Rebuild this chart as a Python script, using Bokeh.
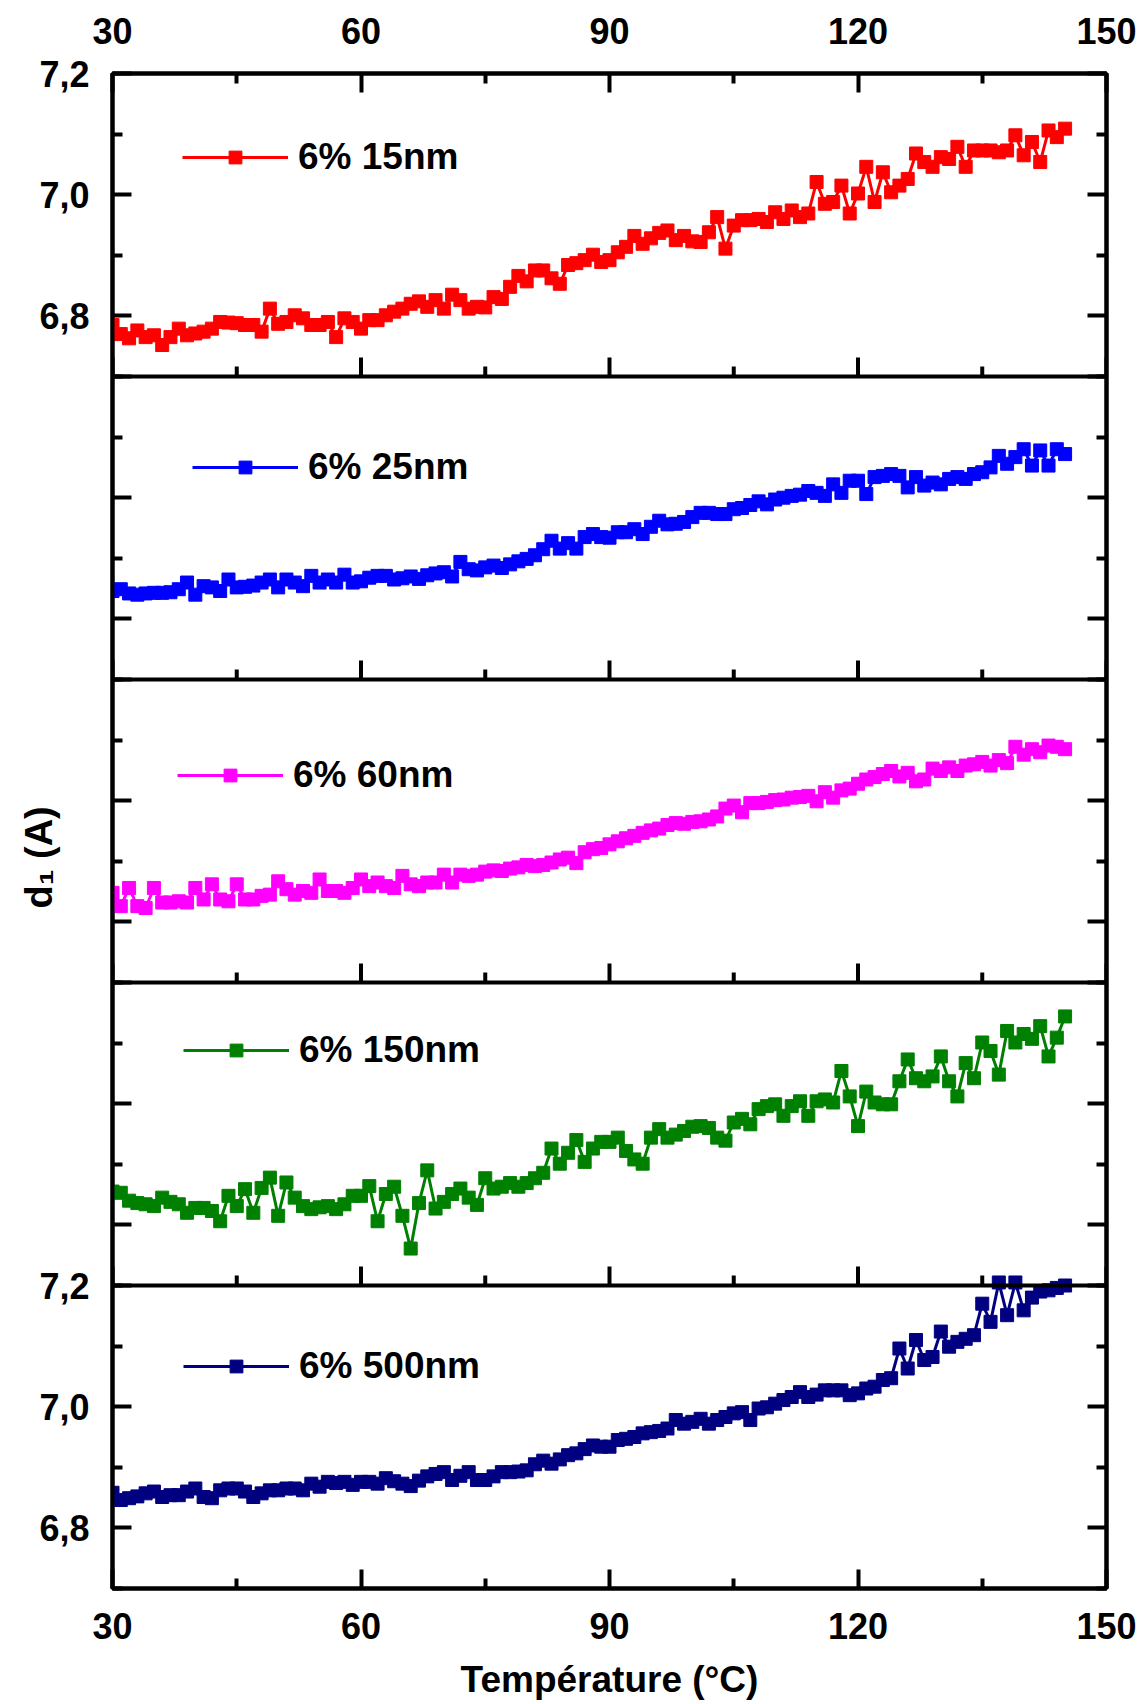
from math import pi
from bokeh.plotting import figure
from bokeh.models import (Range1d, LinearAxis, FixedTicker, CustomJSTickFormatter,
                          Span, Legend, LegendItem)
from bokeh.embed import file_html
from bokeh.resources import INLINE

# ---------------- data ----------------
temperature = [30, 31, 32, 33, 34, 35, 36, 37, 38, 39,
               40, 41, 42, 43, 44, 45, 46, 47, 48, 49,
               50, 51, 52, 53, 54, 55, 56, 57, 58, 59,
               60, 61, 62, 63, 64, 65, 66, 67, 68, 69,
               70, 71, 72, 73, 74, 75, 76, 77, 78, 79,
               80, 81, 82, 83, 84, 85, 86, 87, 88, 89,
               90, 91, 92, 93, 94, 95, 96, 97, 98, 99,
               100, 101, 102, 103, 104, 105, 106, 107, 108, 109,
               110, 111, 112, 113, 114, 115, 116, 117, 118, 119,
               120, 121, 122, 123, 124, 125, 126, 127, 128, 129,
               130, 131, 132, 133, 134, 135, 136, 137, 138, 139,
               140, 141, 142, 143, 144, 145]

d1_15nm = [6.785, 6.770, 6.763, 6.776, 6.765, 6.768, 6.752, 6.765, 6.779, 6.768,
           6.771, 6.774, 6.779, 6.790, 6.789, 6.788, 6.785, 6.785, 6.774, 6.812,
           6.787, 6.790, 6.801, 6.796, 6.785, 6.785, 6.790, 6.765, 6.796, 6.790,
           6.779, 6.793, 6.793, 6.801, 6.807, 6.812, 6.820, 6.824, 6.815, 6.826,
           6.812, 6.835, 6.826, 6.812, 6.815, 6.814, 6.831, 6.828, 6.848, 6.866,
           6.857, 6.875, 6.875, 6.862, 6.853, 6.884, 6.887, 6.892, 6.901, 6.889,
           6.892, 6.905, 6.914, 6.932, 6.919, 6.928, 6.937, 6.941, 6.925, 6.932,
           6.923, 6.922, 6.938, 6.963, 6.911, 6.949, 6.958, 6.958, 6.960, 6.955,
           6.971, 6.960, 6.974, 6.963, 6.969, 7.021, 6.985, 6.988, 7.015, 6.969,
           7.002, 7.046, 6.988, 7.037, 7.004, 7.015, 7.026, 7.068, 7.054, 7.046,
           7.062, 7.059, 7.079, 7.046, 7.073, 7.073, 7.073, 7.070, 7.073, 7.098,
           7.065, 7.087, 7.054, 7.106, 7.095, 7.109]

d1_25nm = [6.846, 6.849, 6.842, 6.840, 6.842, 6.843, 6.843, 6.844, 6.849, 6.860,
           6.840, 6.854, 6.852, 6.846, 6.865, 6.852, 6.853, 6.855, 6.860, 6.865,
           6.852, 6.865, 6.860, 6.854, 6.871, 6.860, 6.865, 6.860, 6.873, 6.860,
           6.862, 6.868, 6.871, 6.871, 6.865, 6.867, 6.870, 6.866, 6.872, 6.875,
           6.877, 6.870, 6.894, 6.882, 6.880, 6.885, 6.888, 6.884, 6.890, 6.895,
           6.899, 6.905, 6.915, 6.929, 6.916, 6.925, 6.916, 6.935, 6.940, 6.935,
           6.934, 6.943, 6.943, 6.948, 6.940, 6.952, 6.962, 6.956, 6.957, 6.960,
           6.968, 6.975, 6.975, 6.973, 6.973, 6.981, 6.983, 6.988, 6.994, 6.989,
           6.997, 7.000, 7.003, 7.005, 7.011, 7.008, 7.003, 7.022, 7.008, 7.028,
           7.028, 7.006, 7.034, 7.036, 7.039, 7.036, 7.017, 7.034, 7.020, 7.025,
           7.022, 7.031, 7.034, 7.031, 7.039, 7.042, 7.050, 7.069, 7.056, 7.067,
           7.080, 7.053, 7.078, 7.053, 7.080, 7.072]

d1_60nm = [6.848, 6.826, 6.856, 6.826, 6.823, 6.856, 6.832, 6.832, 6.834, 6.832,
           6.856, 6.837, 6.862, 6.837, 6.834, 6.862, 6.837, 6.837, 6.843, 6.845,
           6.867, 6.854, 6.845, 6.851, 6.848, 6.870, 6.851, 6.851, 6.848, 6.856,
           6.870, 6.859, 6.865, 6.859, 6.856, 6.876, 6.862, 6.859, 6.865, 6.865,
           6.878, 6.865, 6.878, 6.876, 6.878, 6.883, 6.885, 6.884, 6.888, 6.890,
           6.894, 6.892, 6.894, 6.898, 6.903, 6.906, 6.897, 6.915, 6.920, 6.922,
           6.928, 6.933, 6.938, 6.942, 6.947, 6.951, 6.954, 6.960, 6.963, 6.962,
           6.965, 6.966, 6.969, 6.974, 6.987, 6.992, 6.981, 6.996, 6.996, 6.998,
           7.001, 7.002, 7.005, 7.006, 7.008, 6.999, 7.014, 7.005, 7.017, 7.020,
           7.028, 7.035, 7.039, 7.044, 7.049, 7.040, 7.046, 7.032, 7.035, 7.053,
           7.049, 7.055, 7.049, 7.058, 7.060, 7.064, 7.058, 7.067, 7.062, 7.089,
           7.076, 7.085, 7.080, 7.091, 7.089, 7.085]

d1_150nm = [6.855, 6.853, 6.840, 6.836, 6.834, 6.831, 6.845, 6.838, 6.834, 6.820,
            6.828, 6.828, 6.823, 6.806, 6.848, 6.831, 6.859, 6.820, 6.861, 6.878,
            6.815, 6.870, 6.845, 6.831, 6.826, 6.829, 6.831, 6.826, 6.834, 6.848,
            6.848, 6.864, 6.806, 6.851, 6.863, 6.815, 6.761, 6.836, 6.890, 6.827,
            6.838, 6.851, 6.860, 6.845, 6.833, 6.877, 6.860, 6.863, 6.869, 6.863,
            6.869, 6.877, 6.886, 6.926, 6.901, 6.919, 6.940, 6.904, 6.926, 6.937,
            6.937, 6.944, 6.922, 6.908, 6.901, 6.944, 6.958, 6.944, 6.949, 6.955,
            6.962, 6.963, 6.960, 6.944, 6.939, 6.969, 6.975, 6.966, 6.991, 6.996,
            6.999, 6.980, 6.996, 7.004, 6.980, 7.004, 7.007, 7.002, 7.054, 7.012,
            6.963, 7.020, 7.002, 6.999, 6.999, 7.037, 7.073, 7.042, 7.037, 7.045,
            7.078, 7.037, 7.012, 7.067, 7.042, 7.101, 7.087, 7.048, 7.120, 7.101,
            7.115, 7.107, 7.128, 7.078, 7.109, 7.144]

d1_500nm = [6.858, 6.846, 6.849, 6.852, 6.857, 6.860, 6.851, 6.854, 6.854, 6.860,
            6.865, 6.851, 6.849, 6.862, 6.865, 6.865, 6.860, 6.851, 6.857, 6.862,
            6.862, 6.865, 6.865, 6.862, 6.873, 6.868, 6.876, 6.874, 6.876, 6.871,
            6.876, 6.876, 6.873, 6.882, 6.877, 6.873, 6.869, 6.878, 6.885, 6.889,
            6.892, 6.879, 6.886, 6.892, 6.879, 6.879, 6.885, 6.892, 6.892, 6.893,
            6.895, 6.905, 6.911, 6.906, 6.913, 6.920, 6.923, 6.930, 6.936, 6.934,
            6.934, 6.945, 6.947, 6.950, 6.956, 6.958, 6.960, 6.964, 6.978, 6.972,
            6.975, 6.980, 6.972, 6.978, 6.983, 6.989, 6.991, 6.978, 6.997, 6.999,
            7.005, 7.011, 7.016, 7.024, 7.016, 7.020, 7.027, 7.027, 7.027, 7.019,
            7.022, 7.030, 7.033, 7.044, 7.047, 7.096, 7.063, 7.110, 7.077, 7.082,
            7.124, 7.099, 7.107, 7.112, 7.118, 7.170, 7.140, 7.205, 7.151, 7.205,
            7.159, 7.180, 7.190, 7.192, 7.196, 7.200]

series_labels = ["6% 15nm", "6% 25nm", "6% 60nm", "6% 150nm", "6% 500nm"]
series_values = [d1_15nm, d1_25nm, d1_60nm, d1_150nm, d1_500nm]
series_colors = ["#FF0000", "#0000FF", "#FF00FF", "#008000", "#000080"]

x_major = [30, 60, 90, 120, 150]
x_minor = [45, 75, 105, 135]
y_major = [6.8, 7.0, 7.2]
y_minor = [6.7, 6.9, 7.1]
y_major_labels = ["6,8", "7,0", "7,2"]
y_low, y_high = 6.7, 7.2
x_title = "Température (°C)"
y_title = "d\u2081 (A)"

# ---------------- layout / style ----------------
FONT = "Liberation Sans"
N = len(series_values)
span = y_high - y_low
offsets = [span * (N - 1 - i) for i in range(N)]   # top panel has largest offset

p = figure(width=1143, height=1704,
           x_range=Range1d(30, 150),
           y_range=Range1d(y_low, y_low + span * N),
           output_backend="svg", toolbar_location=None,
           x_axis_location=None, y_axis_location=None,
           min_border_left=112, min_border_right=37,
           min_border_top=73, min_border_bottom=116)
p.grid.visible = False
p.outline_line_color = "black"
p.outline_line_width = 4
p.background_fill_color = "white"
p.border_fill_color = "white"

p.extra_y_ranges = {f"panel{i}": Range1d(y_low - offsets[i], y_low - offsets[i] + span * N)
                    for i in range(N)}

AX = dict(axis_line_width=4, axis_line_color="black",
          major_tick_line_width=4, minor_tick_line_width=4,
          major_tick_in=19, major_tick_out=0, minor_tick_in=10, minor_tick_out=0,
          major_label_text_font=FONT, major_label_text_font_size="36px",
          major_label_text_font_style="bold", major_label_text_color="black")
TITLE = dict(axis_label_text_font=FONT, axis_label_text_font_style="bold",
             axis_label_text_color="black")

# y ticks for every panel (shared left / right axes)
left_major = sorted({round(v + o, 4) for o in offsets for v in y_major})
left_minor = sorted({round(v + o, 4) for o in offsets for v in y_minor})
lab_vals = [round(v + offsets[0], 4) for v in y_major] + [round(v + offsets[-1], 4) for v in y_major]
lab_text = y_major_labels + y_major_labels
yfmt = CustomJSTickFormatter(args=dict(vals=lab_vals, labs=lab_text), code="""
for (let i = 0; i < vals.length; i++) { if (Math.abs(vals[i] - tick) < 1e-6) return labs[i]; }
return "";
""")
blank = CustomJSTickFormatter(code="return '';")

left = LinearAxis(ticker=FixedTicker(ticks=left_major, minor_ticks=left_minor),
                  formatter=yfmt, major_label_standoff=23, **AX)
right = LinearAxis(ticker=FixedTicker(ticks=left_major, minor_ticks=left_minor),
                   formatter=blank, major_label_standoff=0, **AX)
p.add_layout(left, "left")
p.add_layout(right, "right")

# y title carried by an outer, otherwise invisible axis (drawn over the tick-label column);
# trailing no-break spaces move the visible text a little below the frame's centre
ytitle = LinearAxis(ticker=FixedTicker(ticks=[y_low]), formatter=blank,
                    axis_line_alpha=0, major_tick_in=0, major_tick_out=0,
                    minor_tick_in=0, minor_tick_out=0,
                    major_label_standoff=0, major_label_text_font_size="0px",
                    axis_label=y_title + "\u00a0" * 5, axis_label_standoff=-23,
                    axis_label_text_font_size="38px", **TITLE)
p.add_layout(ytitle, "left")

below = LinearAxis(ticker=FixedTicker(ticks=x_major, minor_ticks=x_minor),
                   major_label_standoff=24, axis_label=x_title, axis_label_standoff=17,
                   axis_label_text_font_size="37px", **TITLE, **AX)
above = LinearAxis(ticker=FixedTicker(ticks=x_major, minor_ticks=x_minor),
                   major_label_standoff=30, **AX)
p.add_layout(below, "below")
p.add_layout(above, "above")

# panel separators and their inward (upward) ticks
for o in offsets[:-1]:
    yb = y_low + o
    p.add_layout(Span(location=yb, dimension="width", line_color="black", line_width=4))
    p.ray(x=x_major, y=[yb] * len(x_major), length=19, length_units="screen",
          angle=pi / 2, line_color="black", line_width=4, line_cap="butt")
    p.ray(x=x_minor, y=[yb] * len(x_minor), length=10, length_units="screen",
          angle=pi / 2, line_color="black", line_width=4, line_cap="butt")

legend_loc = [(70, 1410), (80, 1100), (65, 792), (71, 517), (71, 201)]

for i in range(N):
    rn = f"panel{i}"
    col = series_colors[i]
    ln = p.line(temperature, series_values[i], y_range_name=rn, line_color=col, line_width=3)
    sc = p.scatter(temperature, series_values[i], y_range_name=rn, marker="square",
                   size=13, fill_color=col, line_color=col)
    lg = Legend(items=[LegendItem(label=series_labels[i], renderers=[ln, sc])],
                location=legend_loc[i], padding=0, margin=0, spacing=0,
                glyph_width=106, glyph_height=32, label_standoff=10,
                label_text_font=FONT, label_text_font_size="37px",
                label_text_font_style="bold", label_text_color="black",
                border_line_alpha=0, background_fill_alpha=0)
    p.add_layout(lg)

open("out.html", "w").write(file_html(p, INLINE, title="d1 vs temperature"))
